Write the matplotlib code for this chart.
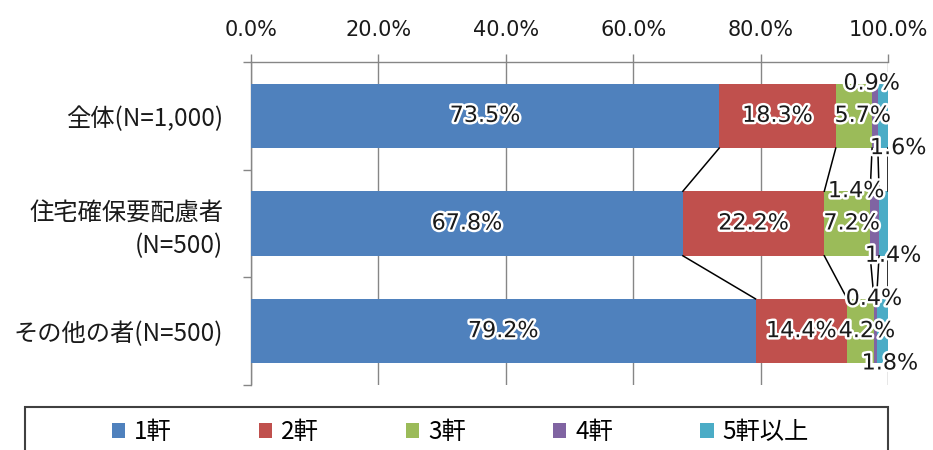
import matplotlib
matplotlib.use("Agg")
import matplotlib.pyplot as plt
import matplotlib.patheffects as pe
from matplotlib.patches import Patch, Rectangle
import numpy as np

categories = ["全体(N=1,000)", "住宅確保要配慮者\n(N=500)", "その他の者(N=500)"]
series = ["1軒", "2軒", "3軒", "4軒", "5軒以上"]
one = [73.5, 67.8, 79.2]
two = [18.3, 22.2, 14.4]
three = [5.7, 7.2, 4.2]
four = [0.9, 1.4, 0.4]
five_plus = [1.6, 1.4, 1.8]
colors = ["#4F81BD", "#C0504D", "#9BBB59", "#8064A2", "#4BACC6"]
xticks = [0, 20, 40, 60, 80, 100]

# nudges for the labels on the thin segments (x in %, y in rows)
label_dx = {2: [1.4, 0.7, 1.0], 3: [-0.5, -2.9, -0.2], 4: [2.4, 1.5, 1.2]}
label_dy = {3: -0.3, 4: 0.3}

JP = "Noto Sans CJK JP"
GRID = "#868686"

fig = plt.figure(figsize=(9.33, 4.5), dpi=100)
ax = fig.add_axes([251 / 933, 1 - 385 / 450, 637 / 933, 323 / 450])

values = np.array([one, two, three, four, five_plus])
y = np.arange(len(categories))
bar_h = 0.6
left = np.zeros(len(categories))
halo = [pe.withStroke(linewidth=3.5, foreground="white")]

for k, (vals, name, c) in enumerate(zip(values, series, colors)):
    ax.barh(y, vals, left=left, height=bar_h, color=c, label=name, zorder=3)
    dx = label_dx.get(k, [0, 0, 0])
    for i, v in enumerate(vals):
        ax.text(left[i] + v / 2 + dx[i], y[i] + label_dy.get(k, 0), f"{v:.1f}%",
                ha="center", va="center", fontsize=16, color="#1a1a1a",
                path_effects=halo, zorder=6)
    left += vals

# series lines between neighbouring bars
cum = np.cumsum(values, axis=0)
for k in range(len(series)):
    for i in range(len(categories) - 1):
        ax.plot([cum[k, i], cum[k, i + 1]],
                [y[i] + bar_h / 2, y[i + 1] - bar_h / 2],
                color="black", lw=1.1, zorder=4)

ax.set_xlim(0, 100)
ax.set_ylim(len(categories) - 0.5, -0.5)
ax.xaxis.tick_top()
ax.set_xticks(xticks, [f"{t:.1f}%" for t in xticks])
ax.grid(axis="x", color=GRID, lw=1, zorder=0)
ax.set_axisbelow(True)
ax.tick_params(axis="x", length=6, color=GRID, width=1, pad=10,
               labelsize=15, labelcolor="#1a1a1a")

ax.set_yticks(y, categories)
ax.set_yticks(np.arange(-0.5, len(categories), 1), minor=True)
ax.tick_params(axis="y", which="major", length=0, pad=20)
ax.tick_params(axis="y", which="minor", length=6, color=GRID, width=1)
for lab in ax.get_yticklabels():
    lab.set_fontfamily(JP)
    lab.set_fontsize(17.5)
    lab.set_color("#1a1a1a")
    lab.set_linespacing(1.35)

for s in ("right", "bottom"):
    ax.spines[s].set_visible(False)
for s in ("top", "left"):
    ax.spines[s].set_color(GRID)
    ax.spines[s].set_linewidth(1)

handles = [Patch(facecolor=c, label=n) for c, n in zip(colors, series)]
fig.legend(handles=handles, loc="center", bbox_to_anchor=(460 / 933, 1 - 432 / 450),
           ncol=5, frameon=False, prop={"family": JP, "size": 17.5},
           handlelength=0.55, handleheight=0.55, handletextpad=0.35,
           columnspacing=3.6)
fig.add_artist(Rectangle((25 / 933, -0.1), 863 / 933, 0.1 + 1 - 407 / 450,
                         transform=fig.transFigure, fill=False,
                         edgecolor="#404040", lw=1.5))

fig.savefig("out.png", dpi=100)
